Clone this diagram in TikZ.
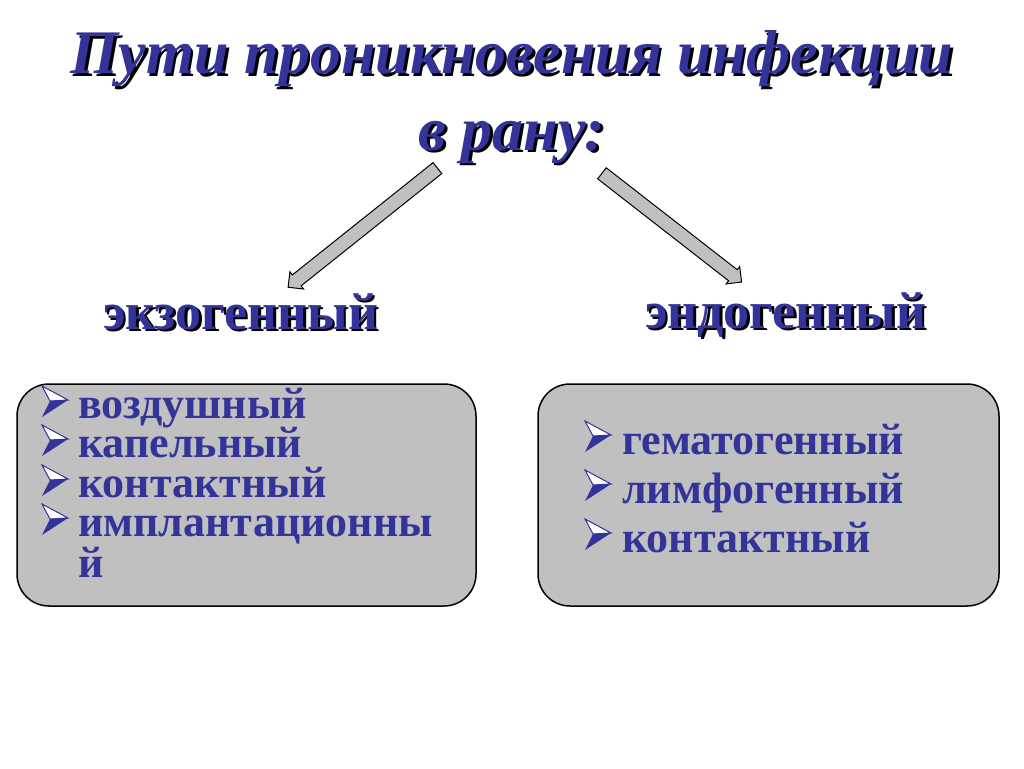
\documentclass[tikz,border=0pt]{standalone}
\usepackage{fontspec}
\setmainfont{Liberation Serif}
\usetikzlibrary{shapes.arrows,positioning}

\definecolor{navy}{HTML}{333399}
\definecolor{boxgray}{HTML}{C0C0C0}

\tikzset{
  titletext/.style={font=\fontsize{62}{76}\selectfont\bfseries\itshape, inner sep=0pt, anchor=base},
  labeltext/.style={font=\fontsize{52}{56}\selectfont\bfseries, inner sep=0pt, anchor=base west},
  itemtext/.style={font=\fontsize{44}{44}\selectfont\bfseries, text=navy, inner sep=0pt, anchor=base west},
  routebox/.style={draw=black, line width=1.5pt, fill=boxgray, rounded corners=32pt},
  blockarrow/.style={single arrow, draw=black, line width=1pt, fill=boxgray, inner xsep=0pt, inner ysep=6.5pt,
    minimum width=21pt, single arrow head extend=4pt, single arrow head indent=0pt},
  shade/.style={text=black, xshift=2.5pt, yshift=-2.5pt},
  arrowbullet/.pic={
    \draw[navy, line width=1pt, line join=miter, fill=white] (0,-14) -- (26,0) -- (8,1) -- cycle;
    \fill[navy] (8,1) -- (26,0) -- (0,17) -- cycle;
  }
}

\begin{document}
\begin{tikzpicture}[x=1pt, y=-1pt]
  \useasboundingbox (0,0) rectangle (1024,768);
  % --- title ---
  \node[titletext, shade] at (512,74) {Пути проникновения инфекции};
  \node[titletext, text=navy] (title) at (512,74) {Пути проникновения инфекции};
  \node[titletext, shade] at (512,150) {в рану:};
  \node[titletext, text=navy] (title2) at (512,150) {в рану:};
  % --- arrows ---
  \node[blockarrow, minimum height=191pt, rotate=218.6] (leftarrow) at (365.5,225.5) {};
  \node[blockarrow, minimum height=177pt, rotate=-37.9] (rightarrow) at (669,225.5) {};
  % --- route labels ---
  \node[labeltext, shade] at (103,329) {экзогенный};
  \node[labeltext, text=navy] (exo) at (103,329) {экзогенный};
  \node[labeltext, shade] at (645,328) {эндогенный};
  \node[labeltext, text=navy] (endo) at (645,328) {эндогенный};
  % --- boxes ---
  \draw[routebox] (17,384) rectangle (476,606);
  \draw[routebox] (538,384) rectangle (999,606);
  % exogenous items
  \pic at (42,400) {arrowbullet};
  \node[itemtext] (air) at (78,418) {воздушный};
  \pic at (42,439) {arrowbullet};
  \node[itemtext] (drop) at (78,457) {капельный};
  \pic at (42,479) {arrowbullet};
  \node[itemtext] (contact1) at (78,497) {контактный};
  \pic at (42,518) {arrowbullet};
  \node[itemtext] (implant) at (78,536) {имплантационны};
  \node[itemtext] (implant2) at (78,577) {й};
  % endogenous items
  \pic at (585,435) {arrowbullet};
  \node[itemtext] (hemato) at (622,454) {гематогенный};
  \pic at (585,484) {arrowbullet};
  \node[itemtext] (lympho) at (622,503) {лимфогенный};
  \pic at (585,533) {arrowbullet};
  \node[itemtext] (contact2) at (622,552) {контактный};
\end{tikzpicture}
\end{document}
